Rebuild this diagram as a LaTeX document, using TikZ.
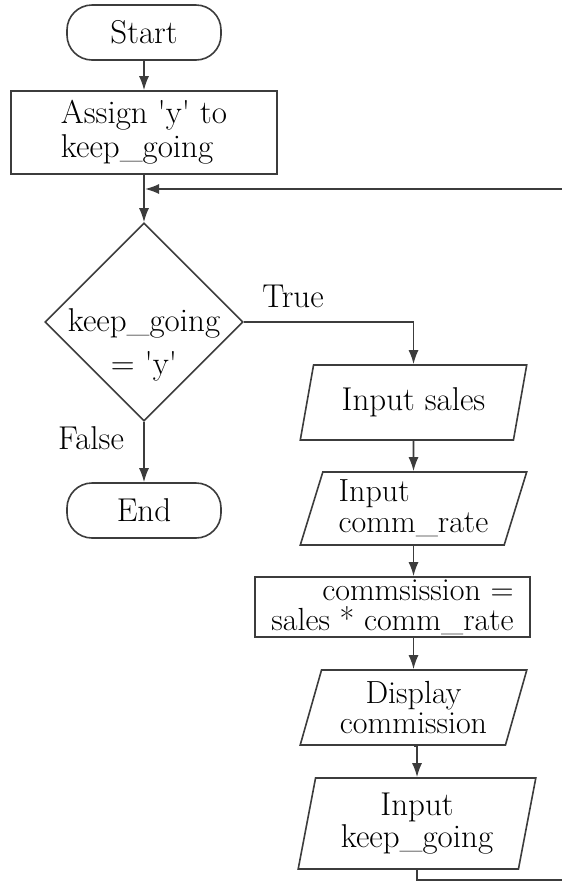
\documentclass[tikz,border=0pt]{standalone}
\usetikzlibrary{shapes.geometric,arrows.meta}
\definecolor{ln}{RGB}{60,60,60}
\begin{document}
\begin{tikzpicture}[x=1pt,y=-1pt,
  every node/.style={font=\fontsize{33}{30}\selectfont},
  term/.style={draw=ln, line width=1.6pt, rounded corners=25pt, minimum width=154pt, minimum height=55pt, inner sep=0pt},
  procbox/.style={draw=ln, line width=1.6pt, inner sep=0pt},
  io/.style={trapezium, trapezium left angle=72, trapezium right angle=108, trapezium stretches=true, draw=ln, line width=1.6pt, inner sep=0pt},
  flow/.style={draw=ln, line width=1.6pt, -{Latex[length=14pt,width=10pt]}},
  plain/.style={draw=ln, line width=1.6pt}
]
\useasboundingbox (0,0) rectangle (562,887);

\node[term] (start) at (144,32.5) {Start};
\node[procbox, minimum width=266pt, minimum height=83pt, align=left, font=\fontsize{33}{34}\selectfont] (assign) at (144,132.5) {Assign \textquotesingle y\textquotesingle\ to\\keep\_going};
\node[diamond, draw=ln, line width=1.6pt, minimum width=198pt, minimum height=198pt, inner sep=0pt] (dec) at (144,322) {};
\node[inner sep=0pt, align=center, font=\fontsize{33}{43}\selectfont] (dectext) at (144,345) {keep\_going\\= \textquotesingle y\textquotesingle};
\node[term] (end) at (144,510.5) {End};

\node (truelbl) at (293,296) {True};
\node (falselbl) at (91,438) {False};

\node[io, minimum width=227pt, minimum height=75pt] (insales) at (413.5,402.5) {Input sales};
\node[io, minimum width=227pt, minimum height=73pt, align=left, font=\fontsize{32}{31}\selectfont] (inrate) at (413.5,508.5) {Input\\comm\_rate};
\node[procbox, minimum width=275pt, minimum height=60pt, align=right, font=\fontsize{32}{30}\selectfont] (comm) at (392.5,607) {commsission =\\sales * comm\_rate};
\node[io, minimum width=227pt, minimum height=75pt, align=center, font=\fontsize{32}{30}\selectfont] (disp) at (413.5,707.5) {Display\\commission};
\node[io, trapezium left angle=78, trapezium right angle=102, minimum width=238pt, minimum height=91pt, align=center, font=\fontsize{33}{32}\selectfont] (kg) at (417,823.5) {Input\\keep\_going};

\coordinate (merge) at (144,189);
\coordinate (c1) at (575,880);

\draw[flow] (start.south) -- (assign.north);
\draw[plain] (assign.south) -- (merge);
\draw[flow] (merge) -- (dec.north);
\draw[flow] (dec.south) -- (end.north);
\draw[flow] (dec.east) -| (insales.north);
\draw[flow] (insales.south) -- (inrate.north);
\draw[flow] (inrate.south) -- (inrate.south |- comm.north);
\draw[flow] (disp.north |- comm.south) -- (disp.north);
\draw[flow] (disp.south) -- (disp.south -| kg.north) -- (kg.north);
\draw[flow, shorten >=1pt] (kg.south) |- (c1) |- (merge);
\end{tikzpicture}
\end{document}
